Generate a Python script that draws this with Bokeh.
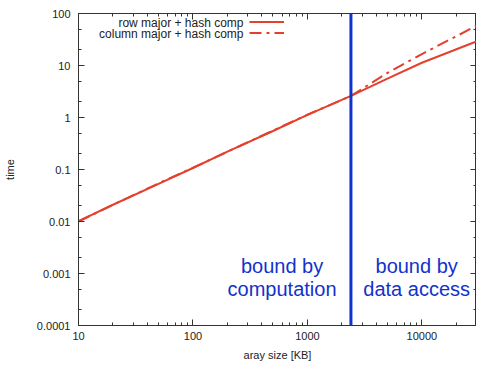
from bokeh.plotting import figure
from bokeh.models import (Range1d, LogAxis, FixedTicker, CustomJSTickFormatter,
                          Span, Label, Legend, LegendItem)
from bokeh.embed import file_html
from bokeh.resources import INLINE

# data
sizes_kb = [10, 20, 50, 100, 200, 500, 1000, 2400, 5000, 10000, 30000]
row_major = [0.0102, 0.021, 0.053, 0.107, 0.22, 0.55, 1.12, 2.6, 5.6, 11.3, 29]
col_major = [0.0100, 0.021, 0.054, 0.108, 0.22, 0.56, 1.13, 2.6, 7.2, 16.6, 58]
x_ticks = [10, 100, 1000, 10000]
y_ticks = [0.0001, 0.001, 0.01, 0.1, 1, 10, 100]
x_minor = [m * 10 ** e for e in range(1, 5) for m in range(2, 10)]
y_minor = [m * 10.0 ** e for e in range(-4, 2) for m in (2, 5)]
boundary_kb = 2400
region_labels = ["bound by", "computation", "bound by", "data access"]
region_x = [600, 600, 9000, 9000]
region_y = [0.0014, 0.00051, 0.0014, 0.00051]
series_names = ["row major + hash comp", "column major + hash comp"]

FONT = "Liberation Sans"
RED = "#e4402e"
BLUE = "#1232cc"

p = figure(width=476, height=363, x_axis_type="log", y_axis_type="log",
           x_range=Range1d(10, 30000), y_range=Range1d(0.0001, 100),
           output_backend="svg", toolbar_location=None,
           min_border_left=78, min_border_right=0, min_border_top=13,
           min_border_bottom=37)
p.grid.visible = False
p.outline_line_color = "#333333"
p.outline_line_width = 1

fmt = CustomJSTickFormatter(code="return String(tick);")
p.xaxis.ticker = FixedTicker(ticks=x_ticks, minor_ticks=x_minor)
p.yaxis.ticker = FixedTicker(ticks=y_ticks, minor_ticks=y_minor)
p.xaxis.formatter = fmt
p.yaxis.formatter = fmt
for ax in (p.xaxis[0], p.yaxis[0]):
    ax.major_tick_in = 6
    ax.major_tick_out = 0
    ax.minor_tick_in = 3
    ax.minor_tick_out = 0
    ax.axis_line_color = "#333333"
    ax.major_tick_line_color = "#333333"
    ax.minor_tick_line_color = "#333333"
    ax.major_label_text_font = FONT
    ax.major_label_text_font_size = "11px"
    ax.major_label_text_color = "#222222"
    ax.axis_label_text_font = FONT
    ax.axis_label_text_font_size = "11px"
    ax.axis_label_text_font_style = "normal"
    ax.axis_label_text_color = "#222222"
p.xaxis.axis_label = "aray size [KB]"
p.yaxis.axis_label = "time"
p.xaxis.major_label_standoff = 6
p.xaxis.axis_label_standoff = 6
p.yaxis.major_label_standoff = 8
p.yaxis.axis_label_standoff = 18

# mirror axes (ticks only)
top = LogAxis(ticker=FixedTicker(ticks=x_ticks, minor_ticks=x_minor))
right = LogAxis(ticker=FixedTicker(ticks=y_ticks, minor_ticks=y_minor))
for ax in (top, right):
    ax.major_tick_in = 6
    ax.major_tick_out = 0
    ax.minor_tick_in = 3
    ax.minor_tick_out = 0
    ax.major_label_text_font_size = "1px"
    ax.major_label_text_alpha = 0
    ax.major_label_standoff = 0
    ax.axis_line_color = "#333333"
    ax.major_tick_line_color = "#333333"
    ax.minor_tick_line_color = "#333333"
p.add_layout(top, "above")
p.add_layout(right, "right")

r1 = p.line(sizes_kb, row_major, line_color=RED, line_width=2)
r2 = p.line(sizes_kb, col_major, line_color=RED, line_width=2,
            line_dash="12 5 3 5")

p.add_layout(Span(location=boundary_kb, dimension="height",
                  line_color=BLUE, line_width=3))

for txt, xx, yy in zip(region_labels, region_x, region_y):
    p.add_layout(Label(x=xx, y=yy, text=txt, text_align="center",
                       text_baseline="middle", text_color=BLUE,
                       text_font=FONT, text_font_size="20px"))

# gnuplot-style key: right-aligned text, sample line to its right
legend = Legend(items=[LegendItem(label=" ", renderers=[r1]),
                       LegendItem(label=" ", renderers=[r2])],
                location=(171, 287), background_fill_alpha=0,
                border_line_alpha=0, label_text_font_size="11px",
                label_height=11, glyph_height=11, glyph_width=35,
                spacing=0, padding=0, margin=0, label_standoff=0)
p.add_layout(legend)
for name, yy in zip(series_names, [303, 292]):
    p.add_layout(Label(x=165, y=yy, x_units="screen", y_units="screen",
                       text=name, text_align="right", text_baseline="middle",
                       text_font=FONT, text_font_size="12px",
                       text_color="#222222"))

open("out.html", "w").write(file_html(p, INLINE))
